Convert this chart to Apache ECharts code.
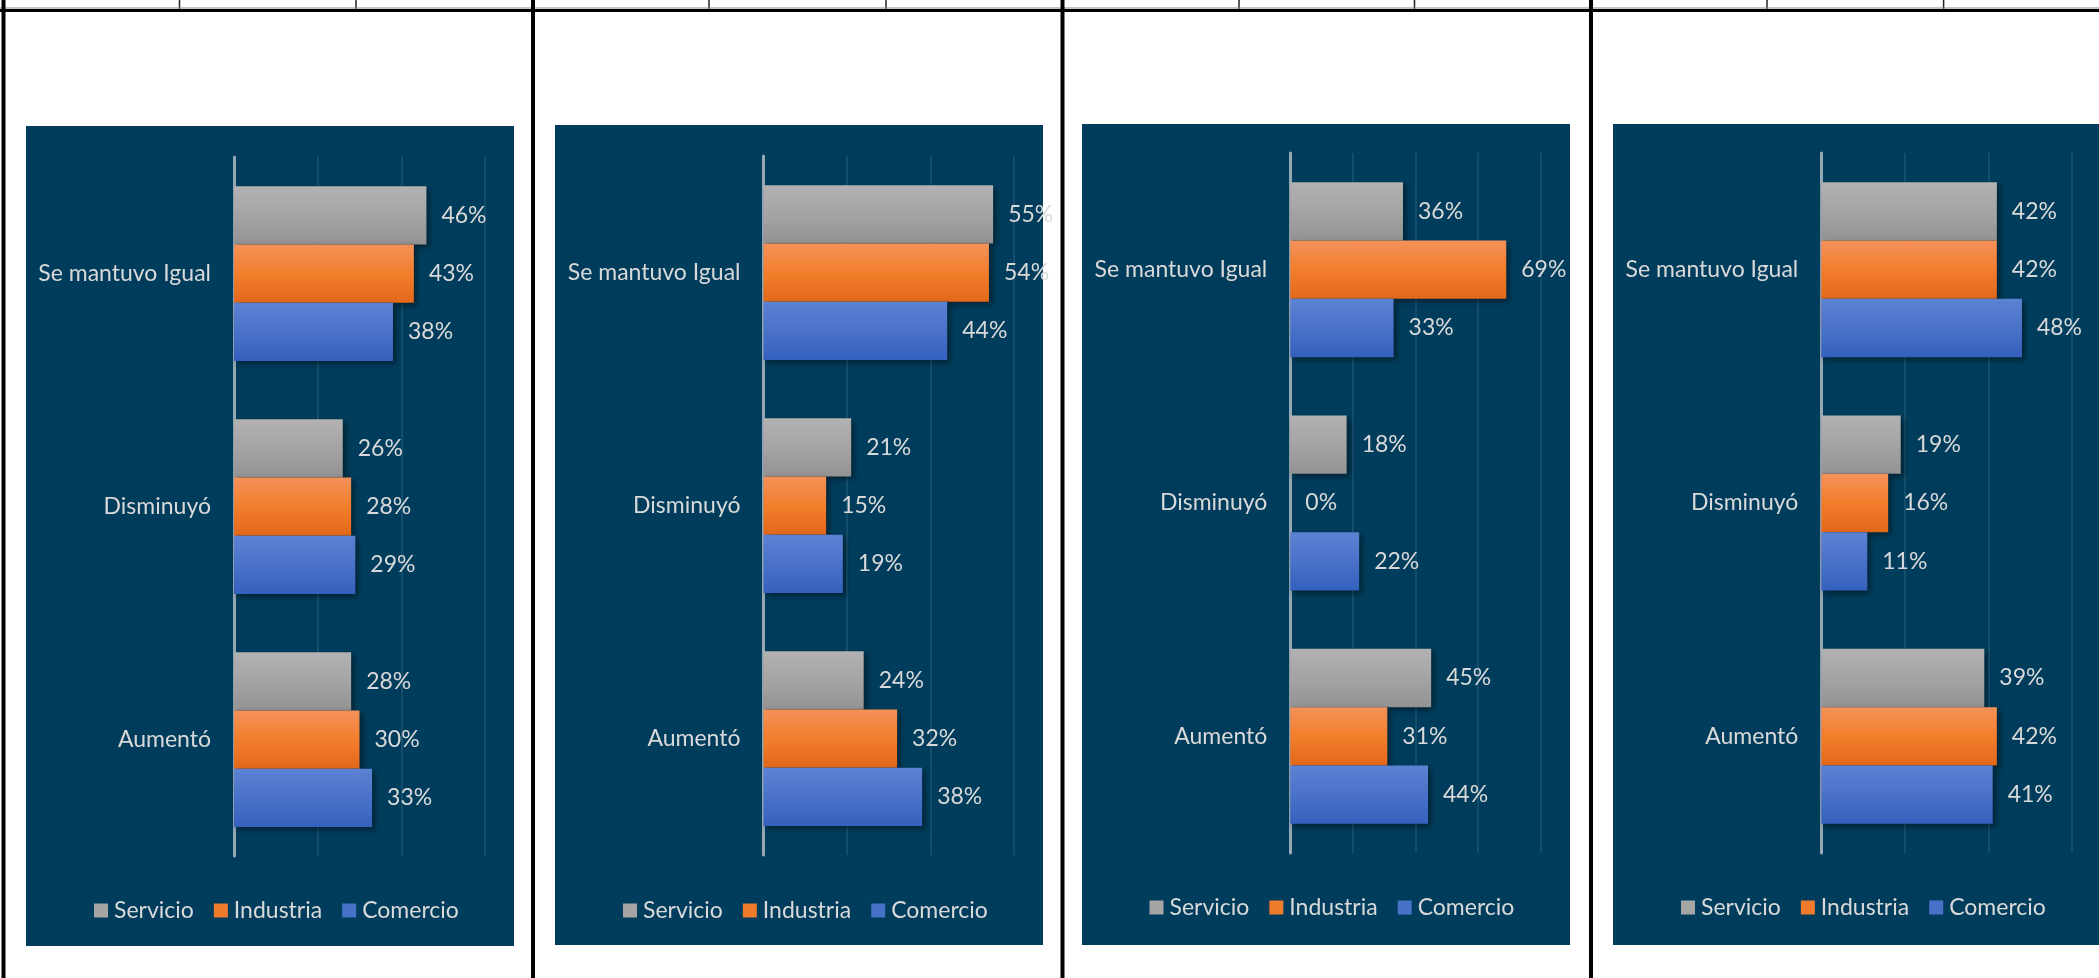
<!DOCTYPE html>
<html>
<head>
<meta charset="utf-8">
<script src="https://cdn.jsdelivr.net/npm/echarts@6/dist/echarts.min.js"></script>
<style>
html,body{margin:0;padding:0;background:#fff;}
#c{width:2099px;height:978px;}
</style>
</head>
<body>
<div id="c"></div>
<script>
// ---- data ----
const categories = ['Aumentó', 'Disminuyó', 'Se mantuvo Igual'];
const seriesNames = ['Servicio', 'Industria', 'Comercio'];
// panel 1
const p1Servicio = [28, 26, 46];
const p1Industria = [30, 28, 43];
const p1Comercio = [33, 29, 38];
// panel 2
const p2Servicio = [24, 21, 55];
const p2Industria = [32, 15, 54];
const p2Comercio = [38, 19, 44];
// panel 3
const p3Servicio = [45, 18, 36];
const p3Industria = [31, 0, 69];
const p3Comercio = [44, 22, 33];
// panel 4
const p4Servicio = [39, 19, 42];
const p4Industria = [42, 16, 42];
const p4Comercio = [41, 11, 48];
const axisMax = [60, 60, 80, 60];
const axisInterval = 20;

const panelData = [
  [p1Servicio, p1Industria, p1Comercio],
  [p2Servicio, p2Industria, p2Comercio],
  [p3Servicio, p3Industria, p3Comercio],
  [p4Servicio, p4Industria, p4Comercio]
];

// ---- layout ----
const panels = [
  {bg: [26, 126, 488, 820], grid: {left: 234, top: 157, width: 251, height: 699}, legend: {left: 94, top: 899}},
  {bg: [555, 125, 488, 820], grid: {left: 763.5, top: 156, width: 250.5, height: 699}, legend: {left: 623, top: 899}},
  {bg: [1082, 124, 488, 821], grid: {left: 1290.3, top: 153, width: 250.4, height: 700}, legend: {left: 1149.5, top: 896}},
  {bg: [1613, 124, 500, 821], grid: {left: 1821.3, top: 153, width: 250.8, height: 700}, legend: {left: 1681, top: 896}}
];

const FONT = 'Lato';
const TXT = '#d9d9d9';
const BG = '#003d5c';

function grad(top, mid, bot) {
  return new echarts.graphic.LinearGradient(0, 0, 0, 1, [
    {offset: 0, color: top}, {offset: 0.5, color: mid}, {offset: 1, color: bot}
  ]);
}
const colors = [
  grad('#b2b2b2', '#a4a4a4', '#939393'),
  grad('#f4925a', '#f27e2c', '#e3681a'),
  grad('#5c82d3', '#4a72c9', '#3461be')
];
const legendColors = ['#a5a5a5', '#f07b2c', '#4672c8'];

const grids = [], xAxes = [], yAxes = [], series = [], legends = [], graphics = [];

panels.forEach((p, i) => {
  graphics.push({type: 'rect', shape: {x: p.bg[0], y: p.bg[1], width: p.bg[2], height: p.bg[3]}, style: {fill: BG}, z: -10});
  grids.push(Object.assign({containLabel: false}, p.grid));
  xAxes.push({
    type: 'value', gridIndex: i, min: 0, max: axisMax[i], interval: axisInterval,
    axisLabel: {show: false}, axisLine: {show: false}, axisTick: {show: false},
    splitLine: {show: true, lineStyle: {color: '#1c5573', width: 1.5}}
  });
  yAxes.push({
    type: 'category', gridIndex: i, data: categories,
    axisTick: {show: false},
    axisLine: {show: true, lineStyle: {color: '#95a8b5', width: 3}},
    axisLabel: {color: TXT, fontFamily: FONT, fontSize: 23, margin: 23}
  });
  seriesNames.forEach((name, s) => {
    series.push({
      type: 'bar', name: name, xAxisIndex: i, yAxisIndex: i,
      data: panelData[i][s],
      barGap: '0%', barCategoryGap: '25%',
      itemStyle: {color: colors[s], shadowColor: 'rgba(0,0,0,0.45)', shadowBlur: 6, shadowOffsetX: 3, shadowOffsetY: 3},
      label: {show: true, position: 'right', distance: 15, formatter: '{c}%', color: TXT, fontFamily: FONT, fontSize: 23},
      emphasis: {disabled: true},
      animation: false
    });
  });
  legends.push({
    left: p.legend.left, top: p.legend.top, padding: 0, itemGap: 20,
    itemWidth: 14, itemHeight: 14, icon: 'rect',
    data: seriesNames.map((n, s) => ({name: n, itemStyle: {color: legendColors[s]}})),
    textStyle: {color: TXT, fontFamily: FONT, fontSize: 23, padding: [0, 0, 0, 1]},
    selectedMode: false
  });
});

// table borders (top strip)
const thinX = [179.5, 356, 709, 886, 1239, 1414.5, 1767, 1943.6];
const thickX = [3.5, 533, 1062.5, 1591];
thinX.forEach(x => graphics.push({type: 'line', shape: {x1: x, y1: 0, x2: x, y2: 10}, style: {stroke: '#222', lineWidth: 1.5}}));
graphics.push({type: 'line', shape: {x1: 0, y1: 8, x2: 2099, y2: 8}, style: {stroke: '#888', lineWidth: 1}});
graphics.push({type: 'line', shape: {x1: 0, y1: 10.5, x2: 2099, y2: 10.5}, style: {stroke: '#000', lineWidth: 3}});
thickX.forEach(x => graphics.push({type: 'line', shape: {x1: x, y1: 0, x2: x, y2: 978}, style: {stroke: '#000', lineWidth: 4}}));

const chart = echarts.init(document.getElementById('c'), null, {renderer: 'canvas'});
chart.setOption({
  backgroundColor: '#ffffff',
  animation: false,
  grid: grids, xAxis: xAxes, yAxis: yAxes, series: series, legend: legends,
  graphic: graphics
});
</script>
</body>
</html>
